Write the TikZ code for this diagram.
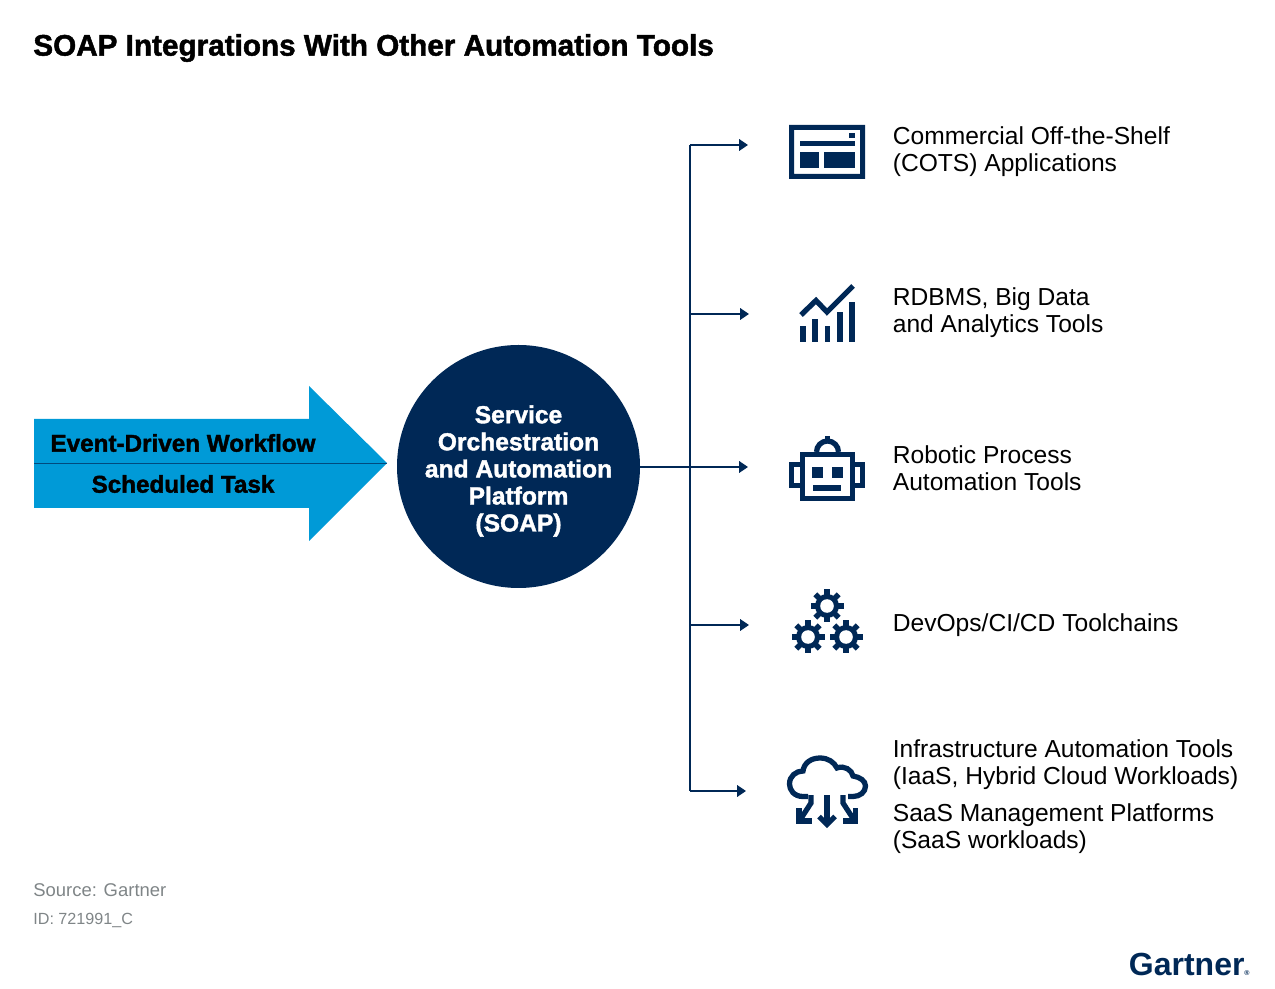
\documentclass[tikz,border=0pt]{standalone}
\usepackage{fontspec}
\setmainfont{Liberation Sans}
\newfontfamily\heavyfont[BoldFeatures={FakeBold=1.6}]{Liberation Sans}
\usetikzlibrary{arrows.meta}

\definecolor{navy}{HTML}{002856}
\definecolor{sky}{HTML}{009AD7}
\definecolor{srcgray}{HTML}{7F8587}

\tikzset{
  lbl/.style={anchor=west, align=left, inner sep=0pt, font=\fontsize{14}{15.3}\selectfont},
  flowlbl/.style={inner sep=0pt, font=\fontsize{13.8}{15}\selectfont\heavyfont\bfseries},
  srclbl/.style={anchor=west, inner sep=0pt, text=srcgray},
  link/.style={navy, line width=1pt},
  linktip/.style={link, -{Triangle[length=5pt, width=6.5pt]}},
  icon/.style={fill=navy},
  iconline/.style={navy, line width=3pt}
}

\begin{document}
\begin{tikzpicture}[x=0.02cm, y=-0.02cm]

% Page (pixel coordinates)
\useasboundingbox (0,0) rectangle (1275,989);

% Title
\node[anchor=west, inner sep=0pt, font=\fontsize{16.9}{20}\selectfont\heavyfont\bfseries] (title) at (33,48) {SOAP Integrations With Other Automation Tools};

% Big arrow
\fill[sky] (34,419) -- (309,419) -- (309,386) -- (387,463) -- (309,541) -- (309,508) -- (34,508) -- cycle;
\draw[navy!70!sky, line width=0.5pt] (34,463.5) -- (387,463.5);
\node[flowlbl] (event) at (183,443) {Event-Driven Workflow};
\node[flowlbl] (task) at (183,484) {Scheduled Task};

% Circle
\node[circle, fill=navy, minimum size=243*0.02cm, inner sep=0pt] (soap) at (518.5,466.5) {};
\node[align=center, inner sep=0pt, text=white,
  font=\fontsize{14}{15.4}\selectfont\heavyfont\bfseries] (soaplbl) at (518.5,471)
  {Service\\Orchestration\\and Automation\\Platform\\(SOAP)};

% Connectors
\coordinate (trunktop) at (690,145);
\coordinate (trunkbot) at (690,791);
\coordinate (cots) at (748,145);
\coordinate (rdbms) at (749,314);
\coordinate (rpa) at (748,467);
\coordinate (devops) at (749,625);
\coordinate (infra) at (746,791);
\coordinate (branch) at (690,314);
\coordinate (branchb) at (690,625);

\draw[linktip] (trunktop) -- (cots);
\draw[linktip] (trunkbot) -- (infra);
\draw[linktip] (branch) -- (rdbms);
\draw[linktip] (branchb) -- (devops);
\draw[linktip] (soap.east |- rpa) -- (rpa);
\draw[link] (trunktop) -- (trunkbot);

% Window icon
\fill[icon, even odd rule] (789,125) rectangle (865,179) (794,130) rectangle (860,174);
\fill[icon] (849,133) rectangle (855,138);
\fill[icon] (800,141) rectangle (855,146);
\fill[icon] (800,152) rectangle (819,168);
\fill[icon] (824,152) rectangle (855,168);

% Chart icon
\foreach \bx/\by in {800/326, 812/319, 824.5/326, 837/312, 849/302}
  \fill[icon] (\bx,\by) rectangle ++(5.5,342-\by);
\draw[iconline] (801,315) -- (816,300.5) -- (827,312) -- (853,286);

% Robot icon
\draw[iconline] (802.5,454.5) rectangle (852.5,498.5);
\draw[iconline] (800,464.5) -- (791.5,464.5) -- (791.5,485.5) -- (800,485.5);
\draw[iconline] (855,464.5) -- (862.5,464.5) -- (862.5,485.5) -- (855,485.5);
\fill[icon] (812,467) rectangle (823,478);
\fill[icon] (832,467) rectangle (843,478);
\fill[icon] (813,485) rectangle (841,491);
\draw[iconline] (816.5,452) arc[start angle=180, end angle=360, radius=11];
\fill[icon] (825,436) rectangle (830,442);

% Gears icon
\foreach \gx/\gy in {827/606, 808/637, 846/637}{
  \foreach \a in {0,45,...,315}
    \fill[icon, rotate around={\a:(\gx,\gy)}] (\gx-2.7,\gy) rectangle (\gx+2.7,\gy-16.5);
  \fill[icon] (\gx,\gy) circle[radius=12];
  \fill[white] (\gx,\gy) circle[radius=6.8];
}

% Cloud icon
\draw[iconline] (808,796.5) -- (803,796.5)
  .. controls (794,796.5) and (789.5,790) .. (789.5,784)
  .. controls (789.5,776) and (796,771) .. (803,771)
  .. controls (804,763) and (811,758) .. (820,758)
  .. controls (828,758) and (834,762) .. (837,768)
  .. controls (844,765) and (852,770) .. (853,776)
  .. controls (860,777) and (865.5,781) .. (865.5,786)
  .. controls (865.5,792) and (860,796.5) .. (853,796.5) -- (848,796.5);
\draw[iconline] (827,795) -- (827,824);
\draw[iconline] (819,816.5) -- (827,824.5) -- (835,816.5);
\draw[iconline] (811,795) -- (811,803) -- (800,820);
\draw[iconline] (799,808) -- (799,821) -- (812,821);
\draw[iconline] (843,795) -- (843,803) -- (854,820);
\draw[iconline] (855.5,808) -- (855.5,821) -- (842.5,821);

% Labels
\node[lbl] (cotslbl) at (892.5,152) {Commercial Off-the-Shelf\\(COTS) Applications};
\node[lbl] (rdbmslbl) at (892.5,313) {RDBMS, Big Data\\and Analytics Tools};
\node[lbl] (rpalbl) at (892.5,468.5) {Robotic Process\\Automation Tools};
\node[lbl] (devopslbl) at (892.5,625) {DevOps/CI/CD Toolchains};
\node[lbl] (infralbl) at (892.5,764.5) {Infrastructure Automation Tools\\(IaaS, Hybrid Cloud Workloads)};
\node[lbl] (saaslbl) at (892.5,828.5) {SaaS Management Platforms\\(SaaS workloads)};

% Source
\node[srclbl, font=\fontsize{10.5}{12}\selectfont] (source) at (33,890) {Source: Gartner};
\node[srclbl, font=\fontsize{9.2}{12}\selectfont] (srcid) at (33,920) {ID: 721991\_C};

% Logo
\node[anchor=east, inner sep=0pt, text=navy, font=\fontsize{18.2}{20}\selectfont\bfseries] (logo) at (1250,964) {Gartner\raisebox{0pt}{\fontsize{4}{4}\selectfont ®}};

\end{tikzpicture}
\end{document}
